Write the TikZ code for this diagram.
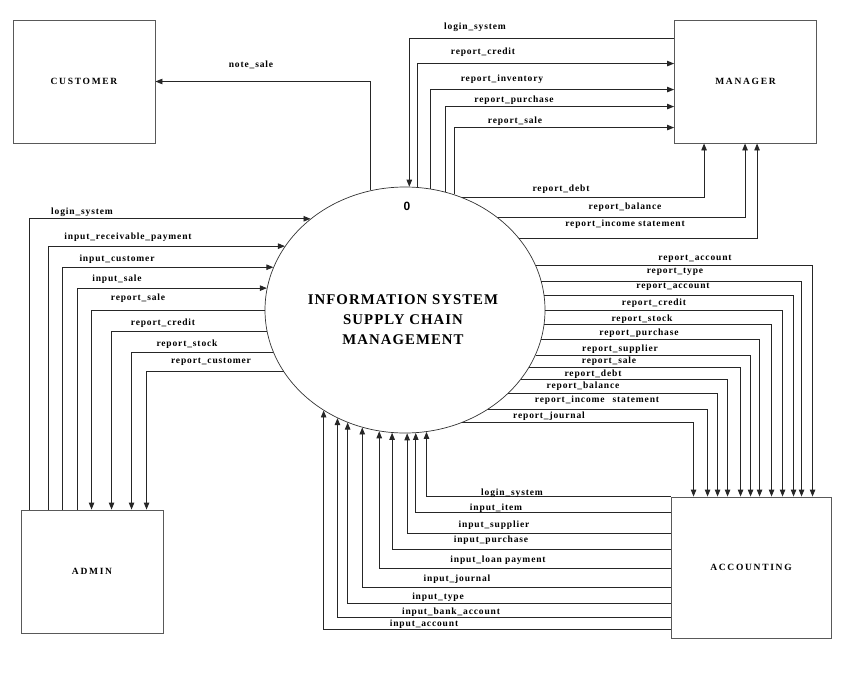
\documentclass[tikz,border=0pt]{standalone}
\usepackage{fontspec}
\setmainfont{Liberation Serif}
\setsansfont{Liberation Sans}
\newfontfamily\lblfont[LetterSpace=9]{Liberation Serif}
\newfontfamily\boxfont[LetterSpace=18]{Liberation Serif}
\newfontfamily\sysfont[LetterSpace=7]{Liberation Serif}
\usetikzlibrary{arrows.meta,calc,positioning,shapes.geometric}

\tikzset{
	ext/.style={draw=black!65, line width=0.9pt, inner sep=0pt,
		minimum width=142pt, minimum height=123pt,
		font=\boxfont\bfseries\fontsize{9.5}{11}\selectfont},
	flow/.style={draw=black!85, line width=0.9pt, -{Triangle[length=7pt,width=5.5pt]}},
	lbl/.style={inner sep=0pt, font=\lblfont\bfseries\fontsize{9.5}{10}\selectfont},
}

\begin{document}
\begin{tikzpicture}[x=1pt,y=-1pt]
		\useasboundingbox (0,0) rectangle (850,680);

		% external entities
		\node[ext] (cus) at (84,81.5) {CUSTOMER};
		\node[ext] (man) at (745.5,81.5) {MANAGER};
		\node[ext] (adm) at (92,571.5) {ADMIN};
		\node[ext, minimum width=160pt, minimum height=141pt] (acc) at (751,567.5) {ACCOUNTING};

		% process 0
		\node[ellipse, draw=black!80, line width=0.7pt, inner sep=0pt,
			minimum width=280pt, minimum height=246pt] (sys) at (405,310) {};
		\node[font=\sffamily\bfseries\fontsize{12}{12}\selectfont] (pid) at (407,206) {0};
		\node[align=center, font=\sysfont\bfseries\fontsize{14.8}{20}\selectfont] (systxt) at (403,320)
			{INFORMATION SYSTEM\\SUPPLY CHAIN\\MANAGEMENT};

		% customer
		\draw[flow] (sys.106.4) |- (cus.east) node[lbl] (ns) at (251,65) {note\_sale};

		% manager
		\draw[flow] ($(man.north west)+(0,19)$) -| (sys.88.6) node[lbl] (ml) at (475,27) {login\_system};
		\foreach \a/\dy/\lx/\ly/\t [count=\i] in {
			84.4/44/483/52/report\_credit,
			78.3/70/502/79/report\_inventory,
			71.3/87/514/100/report\_purchase,
			67.4/108/515/121/report\_sale}
			\draw[flow] (sys.\a) |- ($(man.north west)+(0,\dy)$) node[lbl] (mt\i) at (\lx,\ly) {\t};
		\foreach \a/\dx/\lx/\ly/\t [count=\i] in {
			63.9/30/561/189/report\_debt,
			45.4/71/625/207/report\_balance,
			32.9/83/625/224/report\_income statement}
			\draw[flow] (sys.\a) -| ($(man.south west)+(\dx,0)$) node[lbl] (mb\i) at (\lx,\ly) {\t};

		% admin
		\foreach \dx/\a/\lx/\ly/\t [count=\i] in {
			9/136.0/82/212/login\_system,
			28/152.3/128/237/input\_receivable\_payment,
			42/162.7/117/259/input\_customer,
			57/171.3/117/279/input\_sale}
			\draw[flow] ($(adm.north west)+(\dx,0)$) |- (sys.\a) node[lbl] (ai\i) at (\lx,\ly) {\t};
		\foreach \dx/\a/\lx/\ly/\t [count=\i] in {
			71/180/138/298/report\_sale,
			91/189.5/163/323/report\_credit,
			111/198.1/187/344/report\_stock,
			126/207.1/211/362/report\_customer}
			\draw[flow] (sys.\a) -| ($(adm.north west)+(\dx,0)$) node[lbl] (ar\i) at (\lx,\ly) {\t};

		% accounting
		\foreach \a/\dx/\lx/\ly/\t [count=\i] in {
			19.5/142/695/259/report\_account,
			12.9/131/675/272/report\_type,
			6.6/123/673/287/report\_account,
			-0.4/112/654/303/report\_credit,
			-6.6/101/642/319/report\_stock,
			-12.5/89/639/333/report\_purchase,
			-19.1/80/620/349/report\_supplier,
			-25.2/70/609/361/report\_sale,
			-31.3/57/593/374/report\_debt,
			-39.4/47/583/386/report\_balance,
			-50.0/37/597/400/report\_income\hspace{8pt}statement,
			-63.9/23/549/416/report\_journal}
			\draw[flow] (sys.\a) -| ($(acc.north west)+(\dx,0)$) node[lbl] (cr\i) at (\lx,\ly) {\t};
		\foreach \dy/\a/\lx/\ly/\t [count=\i] in {
			0/-80.7/512/493/login\_system,
			16/-85.8/496/508/input\_item,
			37/-89.5/494/525/input\_supplier,
			53/-96.5/491/540/input\_purchase,
			72/-102.6/498/560/input\_loan payment,
			91/-110.2/457/579/input\_journal,
			107/-117.9/438/597/input\_type,
			121/-122.3/451/612/input\_bank\_account,
			133/-129.4/424/624/input\_account}
			\draw[flow] ($(acc.north west)+(0,\dy)$) -| (sys.\a) node[lbl] (ci\i) at (\lx,\ly) {\t};
	\end{tikzpicture}
\end{document}
